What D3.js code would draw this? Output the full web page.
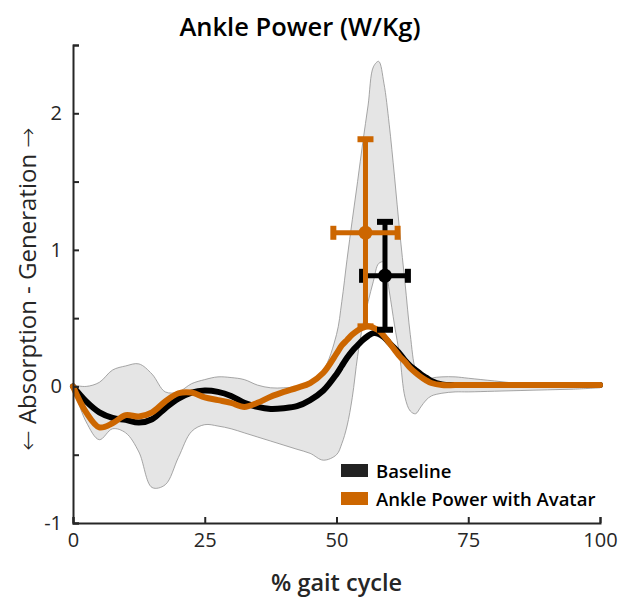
<!DOCTYPE html>
<html>
<head>
<meta charset="utf-8">
<script src="https://cdn.jsdelivr.net/npm/d3@7"></script>
<style>
  body { margin: 0; background: #fff; }
  svg text { font-family: "Open Sans", "Noto Sans", sans-serif; }
</style>
</head>
<body>
<div id="chart"></div>
<script>
// data
var gaitPct = [0, 2.5, 5, 7.5, 10, 12.5, 15, 17.5, 20, 22.5, 25, 27.5, 30, 32.5, 35, 37.5, 40, 42.5, 45, 47.5,
  50, 51, 52, 53, 54, 55, 56, 57, 58, 59, 60, 61, 62, 63, 64, 65, 66, 67, 68, 70, 72.5, 75, 80, 85, 90, 95, 100];

var baseline = [0, -0.11, -0.19, -0.23, -0.245, -0.265, -0.24, -0.16, -0.09, -0.045, -0.03, -0.04, -0.07, -0.12, -0.15, -0.165, -0.16, -0.145, -0.10, -0.03,
  0.09, 0.15, 0.21, 0.26, 0.30, 0.34, 0.37, 0.39, 0.385, 0.36, 0.32, 0.28, 0.24, 0.19, 0.15, 0.12, 0.09, 0.065, 0.04, 0.015, 0.01, 0.01, 0.01, 0.01, 0.01, 0.01, 0.01];

var avatar = [0, -0.19, -0.30, -0.27, -0.21, -0.22, -0.19, -0.11, -0.05, -0.045, -0.08, -0.10, -0.12, -0.15, -0.12, -0.075, -0.04, -0.01, 0.025, 0.10,
  0.24, 0.30, 0.34, 0.38, 0.41, 0.43, 0.44, 0.43, 0.41, 0.37, 0.32, 0.27, 0.22, 0.18, 0.135, 0.10, 0.07, 0.045, 0.025, 0.01, 0.01, 0.01, 0.01, 0.01, 0.01, 0.01, 0.01];

var bandUpper = [0.01, 0.0, 0.03, 0.12, 0.15, 0.165, 0.09, -0.04, -0.04, 0.02, 0.05, 0.07, 0.065, 0.05, 0.01, -0.01, -0.01, 0.0, 0.04, 0.12,
  0.38, 0.62, 0.93, 1.22, 1.50, 1.79, 2.06, 2.34, 2.38, 2.22, 1.92, 1.54, 1.13, 0.76, 0.38, 0.12, 0.05, 0.04, 0.06, 0.07, 0.07, 0.06, 0.04, 0.02, 0.01, 0.005, 0.0];

var bandLower = [0, -0.26, -0.39, -0.31, -0.34, -0.48, -0.74, -0.72, -0.52, -0.33, -0.28, -0.29, -0.31, -0.34, -0.37, -0.40, -0.43, -0.46, -0.49, -0.54,
  -0.50, -0.42, -0.29, -0.08, 0.22, 0.45, 0.62, 0.77, 0.90, 0.91, 0.70, 0.45, 0.22, -0.08, -0.18, -0.20, -0.15, -0.10, -0.07, -0.05, -0.04, -0.04, -0.035, -0.03, -0.025, -0.02, -0.01];

// peak power markers (mean +- sd), baseline first then avatar
var peakNames = ["Baseline", "Ankle Power with Avatar"];
var peakPct = [59.2, 55.5];
var peakPctSD = [4.35, 6.1];
var peakPower = [0.81, 1.125];
var peakPowerSD = [0.395, 0.685];

var xTicks = [0, 25, 50, 75, 100];
var yTicks = [-1, -0.5, 0, 0.5, 1, 1.5, 2, 2.5];
var yLabels = [-1, 0, 1, 2];

var colors = ["#000000", "#cc6600"];
var axisColor = "#262626";

var width = 622, height = 604;
var margin = {left: 73, right: 22, top: 45, bottom: 81};

var svg = d3.select("#chart").append("svg")
  .attr("width", width)
  .attr("height", height);

var x = d3.scaleLinear().domain([0, 100]).range([margin.left, width - margin.right]);
var y = d3.scaleLinear().domain([-1, 2.5]).range([height - margin.bottom, margin.top]);

var pts = gaitPct.map(function(p, i) {
  return {p: p, base: baseline[i], av: avatar[i], hi: bandUpper[i], lo: bandLower[i]};
});

// shaded band
var band = d3.area()
  .x(function(d) { return x(d.p); })
  .y0(function(d) { return y(d.lo); })
  .y1(function(d) { return y(d.hi); })
  .curve(d3.curveCatmullRom.alpha(0.5));

svg.append("path")
  .datum(pts)
  .attr("d", band)
  .attr("fill", "#e5e5e5")
  .attr("stroke", "#909090")
  .attr("stroke-width", 0.8);

// mean lines
var lineBase = d3.line()
  .x(function(d) { return x(d.p); })
  .y(function(d) { return y(d.base); })
  .curve(d3.curveCatmullRom.alpha(0.5));
var lineAv = d3.line()
  .x(function(d) { return x(d.p); })
  .y(function(d) { return y(d.av); })
  .curve(d3.curveCatmullRom.alpha(0.5));

svg.append("path").datum(pts).attr("d", lineBase)
  .attr("fill", "none").attr("stroke", colors[0]).attr("stroke-width", 6)
  .attr("stroke-linejoin", "round").attr("stroke-linecap", "round");
svg.append("path").datum(pts).attr("d", lineAv)
  .attr("fill", "none").attr("stroke", colors[1]).attr("stroke-width", 6)
  .attr("stroke-linejoin", "round").attr("stroke-linecap", "round");

// error bars
var capV = 8, capH = 7;
peakPct.forEach(function(p, i) {
  var g = svg.append("g").attr("stroke", colors[i]).attr("fill", colors[i]);
  var cx = x(p), cy = y(peakPower[i]);
  var top = y(peakPower[i] + peakPowerSD[i]), bot = y(peakPower[i] - peakPowerSD[i]);
  var left = x(p - peakPctSD[i]), right = x(p + peakPctSD[i]);
  g.append("line").attr("x1", cx).attr("x2", cx).attr("y1", top).attr("y2", bot).attr("stroke-width", 5);
  g.append("line").attr("x1", left).attr("x2", right).attr("y1", cy).attr("y2", cy).attr("stroke-width", 5);
  [top, bot].forEach(function(yy) {
    g.append("line").attr("x1", cx - capV).attr("x2", cx + capV).attr("y1", yy).attr("y2", yy).attr("stroke-width", 6);
  });
  [left, right].forEach(function(xx) {
    g.append("line").attr("x1", xx).attr("x2", xx).attr("y1", cy - capH).attr("y2", cy + capH).attr("stroke-width", 6);
  });
  g.append("circle").attr("cx", cx).attr("cy", cy).attr("r", 7).attr("stroke", "none");
});

// axes
var xAxis = d3.axisBottom(x).tickValues(xTicks).tickSize(-6).tickPadding(10);
var yAxis = d3.axisLeft(y).tickValues(yTicks).tickSize(-6).tickPadding(11)
  .tickFormat(function(d) { return yLabels.indexOf(d) >= 0 ? String(d) : ""; });

var gx = svg.append("g").attr("transform", "translate(0," + y(-1) + ")").call(xAxis);
var gy = svg.append("g").attr("transform", "translate(" + x(0) + ",0)").call(yAxis);
[gx, gy].forEach(function(g) {
  g.select(".domain").attr("stroke", axisColor).attr("stroke-width", 2);
  g.selectAll(".tick line").attr("stroke", axisColor).attr("stroke-width", 2);
  g.selectAll(".tick text").attr("fill", axisColor).style("font-size", "20px").style("font-family", "'Open Sans', sans-serif");
});

// titles
svg.append("text").attr("x", 300).attr("y", 36).attr("text-anchor", "middle")
  .style("font-size", "25.5px").style("font-weight", 600).attr("fill", "#000")
  .text("Ankle Power (W/Kg)");

svg.append("text").attr("x", x(50)).attr("y", 591).attr("text-anchor", "middle")
  .style("font-size", "23.5px").style("font-weight", 600).attr("fill", "#262626")
  .text("% gait cycle");

var ylab = svg.append("text")
  .attr("transform", "translate(36," + 289 + ") rotate(-90)")
  .attr("text-anchor", "middle")
  .style("font-size", "24px").attr("fill", "#262626");
ylab.append("tspan").style("font-family", "'DejaVu Sans', sans-serif").style("font-weight", 300).text("\u2190");
ylab.append("tspan").text(" Absorption - Generation ");
ylab.append("tspan").style("font-family", "'DejaVu Sans', sans-serif").style("font-weight", 300).text("\u2192");

// legend
var legend = svg.append("g").attr("transform", "translate(341,464)");
peakNames.forEach(function(name, i) {
  var row = legend.append("g").attr("transform", "translate(0," + (i * 28) + ")");
  row.append("rect").attr("width", 27).attr("height", 13).attr("fill", i == 0 ? "#222" : colors[1]);
  row.append("text").attr("x", 35).attr("y", 13.5).style("font-size", "18.5px").style("font-weight", 600)
    .attr("fill", "#000").text(name);
});
</script>
</body>
</html>
